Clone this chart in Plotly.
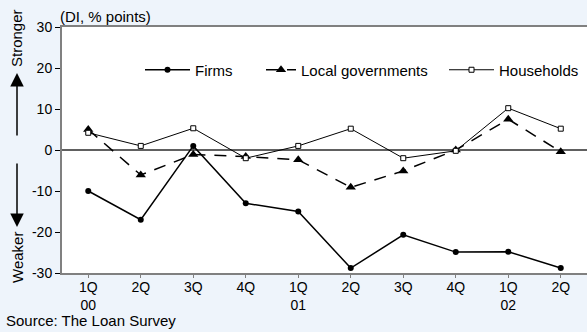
import plotly.graph_objects as go

quarters = ["1Q<br>00", "2Q", "3Q", "4Q", "1Q<br>01", "2Q", "3Q", "4Q", "1Q<br>02", "2Q"]
firms = [-10, -17, 1, -13, -15, -28.8, -20.7, -24.9, -24.8, -28.8]
local_gov = [5, -6.1, -1.1, -1.6, -2.4, -9.1, -5.1, 0, 7.5, -0.4]
households = [4.2, 1.0, 5.3, -2.0, 1.0, 5.2, -2.0, -0.2, 10.2, 5.2]
y_ticks = [-30, -20, -10, 0, 10, 20, 30]
y_tick_text = ["-30", "-20", "-10", "0", "10", "20", "30"]

xs = list(range(len(quarters)))
FONT = "Liberation Sans, Arial, sans-serif"
FS = 15

L, T, B = 62, 27, 59
W, H = 587, 332
pw, ph = W - L, H - T - B

def px(x):
    return (x - L) / pw

def py(y):
    return (H - B - y) / ph

fig = go.Figure()
fig.add_trace(go.Scatter(x=xs, y=firms, name="Firms", mode="lines+markers", legend="legend",
                         line=dict(color="black", width=1.5),
                         marker=dict(symbol="circle", size=6, color="black")))
fig.add_trace(go.Scatter(x=xs, y=local_gov, name="Local governments", mode="lines+markers",
                         legend="legend2",
                         line=dict(color="black", width=1.5, dash="12px,9px"),
                         marker=dict(symbol="triangle-up", size=9, color="black")))
fig.add_trace(go.Scatter(x=xs, y=households, name="Households", mode="lines+markers",
                         legend="legend3",
                         line=dict(color="black", width=1),
                         marker=dict(symbol="square", size=5, color="white",
                                     line=dict(color="black", width=1))))

def leg(x0, iw):
    return dict(x=px(x0), y=py(70), xanchor="left", yanchor="middle",
                bgcolor="rgba(0,0,0,0)", font=dict(size=FS), itemwidth=iw,
                borderwidth=0)

fig.update_layout(
    width=W, height=H,
    margin=dict(l=L, r=0, t=T, b=B),
    paper_bgcolor="#EEF4FB",
    plot_bgcolor="white",
    font=dict(family=FONT, size=FS, color="black"),
    showlegend=True,
    legend=leg(140, 45),
    legend2=leg(261, 30),
    legend3=leg(444, 45),
    xaxis=dict(tickmode="array", tickvals=xs, ticktext=quarters, range=[-0.5, 9.5],
               showgrid=False, zeroline=False, showline=True, linecolor="#808080",
               linewidth=2, mirror=True, ticks="outside", ticklen=3, tickcolor="#808080",
               tickfont=dict(size=14), ticklabelstandoff=-3),
    yaxis=dict(range=[-30, 30], tickvals=y_ticks, ticktext=y_tick_text,
               showgrid=False, zeroline=True, zerolinecolor="#606060", zerolinewidth=1.5,
               showline=True, linecolor="#808080", linewidth=2, ticks="outside",
               ticklen=5, tickcolor="black", tickfont=dict(size=14)),
    annotations=[
        dict(text="(DI, % points)", xref="paper", yref="paper", x=px(58), y=py(16),
             xanchor="left", yanchor="middle", showarrow=False, font=dict(size=FS)),
        dict(text="Source: The Loan Survey", xref="paper", yref="paper", x=px(4), y=py(320),
             xanchor="left", yanchor="middle", showarrow=False, font=dict(size=FS)),
        dict(text="Stronger", xref="paper", yref="paper", x=px(17), y=py(38),
             xanchor="center", yanchor="middle",
             textangle=-90, showarrow=False, font=dict(size=FS)),
        dict(text="Weaker", xref="paper", yref="paper", x=px(17), y=py(258),
             xanchor="center", yanchor="middle",
             textangle=-90, showarrow=False, font=dict(size=FS)),
        dict(text="", xref="paper", yref="paper", x=px(17), y=py(73), ax=0, ay=64,
             showarrow=True, arrowhead=2, arrowsize=1.8, arrowwidth=1.5, arrowcolor="black"),
        dict(text="", xref="paper", yref="paper", x=px(17), y=py(227), ax=0, ay=-65,
             showarrow=True, arrowhead=2, arrowsize=1.8, arrowwidth=1.5, arrowcolor="black"),
    ],
)

fig.write_html("out.html")
